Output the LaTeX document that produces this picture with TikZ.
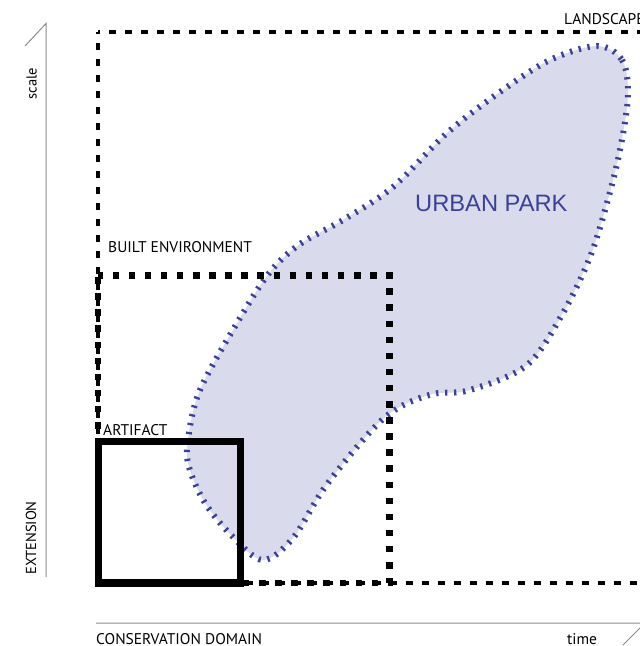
\documentclass[tikz,border=0pt]{standalone}
\usepackage{fontspec}
\setmainfont{PT Sans}
\newfontfamily\parkfont{Liberation Sans}
\definecolor{parkfill}{HTML}{D9DAEC}
\definecolor{parkblue}{HTML}{3B4199}
\definecolor{axisgray}{HTML}{8C8C8C}
\begin{document}
\begin{tikzpicture}[x=1pt,y=-1pt,
  lbl/.style={inner sep=0pt, font=\fontsize{15.5}{17}\selectfont, anchor=base west},
  vlbl/.style={inner sep=0pt, font=\fontsize{14.5}{16}\selectfont, anchor=base, rotate=90},
  landline/.style={line width=4.3pt, dash pattern=on 7pt off 9pt},
  builtline/.style={line width=6.5pt, dash pattern=on 6.5pt off 9.6pt, dash phase=1.55pt},
  artline/.style={line width=7.3pt, line join=miter},
  parkshape/.style={draw=parkblue, line width=6pt, dash pattern=on 2.3pt off 6.7pt, fill=parkfill},
  axis/.style={draw=axisgray, line width=1pt}]
\useasboundingbox (0,0) rectangle (640,646);
\clip (0,0) rectangle (640,646);
\fill[white] (0,0) rectangle (640,646);
% urban park blob
\draw[parkshape] plot[smooth cycle, tension=0.55] coordinates {
 (597,46) (622,60) (628,95) (620,150) (607,203) (590,257) (563,313) (527,365)
 (470,390) (433,394) (398,408) (370,432) (325,487) (293,538) (263,560) (233,537)
 (205,503) (189,467) (188,440) (200,390) (240,318) (270,272) (300,244) (343,220)
 (393,187) (447,133) (500,92) (550,60)};
% landscape
\coordinate (lc) at (98,32);
\coordinate (ltr) at (700,32);
\coordinate (lbl) at (98,583);
\coordinate (lbr) at (700,583);
\draw[landline, dash phase=5pt] (lc) -- (ltr);
\draw[landline, dash phase=5pt] (lc) -- (lbl) -- (lbr);
% built environment
\coordinate (btl) at (98,275.5);
\coordinate (btr) at (389.5,275.5);
\coordinate (bbr) at (389.5,583);
\coordinate (bbl) at (98,583);
\draw[builtline] (btl) -- (btr) -- (bbr) -- (bbl) -- cycle;
% artifact
\coordinate (atl) at (98.7,441.3);
\coordinate (abr) at (240.3,583);
\draw[artline] (atl) rectangle (abr);
% axes
\coordinate (ytop) at (46,23.5);
\coordinate (ybot) at (46,577);
\coordinate (ytick) at (25,46);
\draw[axis] (ytick) -- (ytop) -- (ybot);
\coordinate (xl) at (96,623);
\coordinate (xr) at (645,623);
\coordinate (xtick) at (623,645);
\draw[axis] (xl) -- (xr) -- (xtick);
% labels
\node[lbl] (land) at (564,24.3) {LANDSCAPE};
\node[lbl] (built) at (108,252.7) {BUILT ENVIRONMENT};
\node[lbl] (art) at (103,435) {ARTIFACT};
\node[inner sep=0pt, anchor=base west, font=\parkfont\fontsize{23.7}{25}\selectfont, text=parkblue] (park) at (415,211.7) {URBAN PARK};
\node[lbl] (cons) at (96,644.5) {CONSERVATION DOMAIN};
\node[lbl] (time) at (567,644.5) {time};
\node[vlbl] (scale) at (36.7,83.5) {scale};
\node[vlbl] (ext) at (36,538) {EXTENSION};
\end{tikzpicture}
\end{document}
